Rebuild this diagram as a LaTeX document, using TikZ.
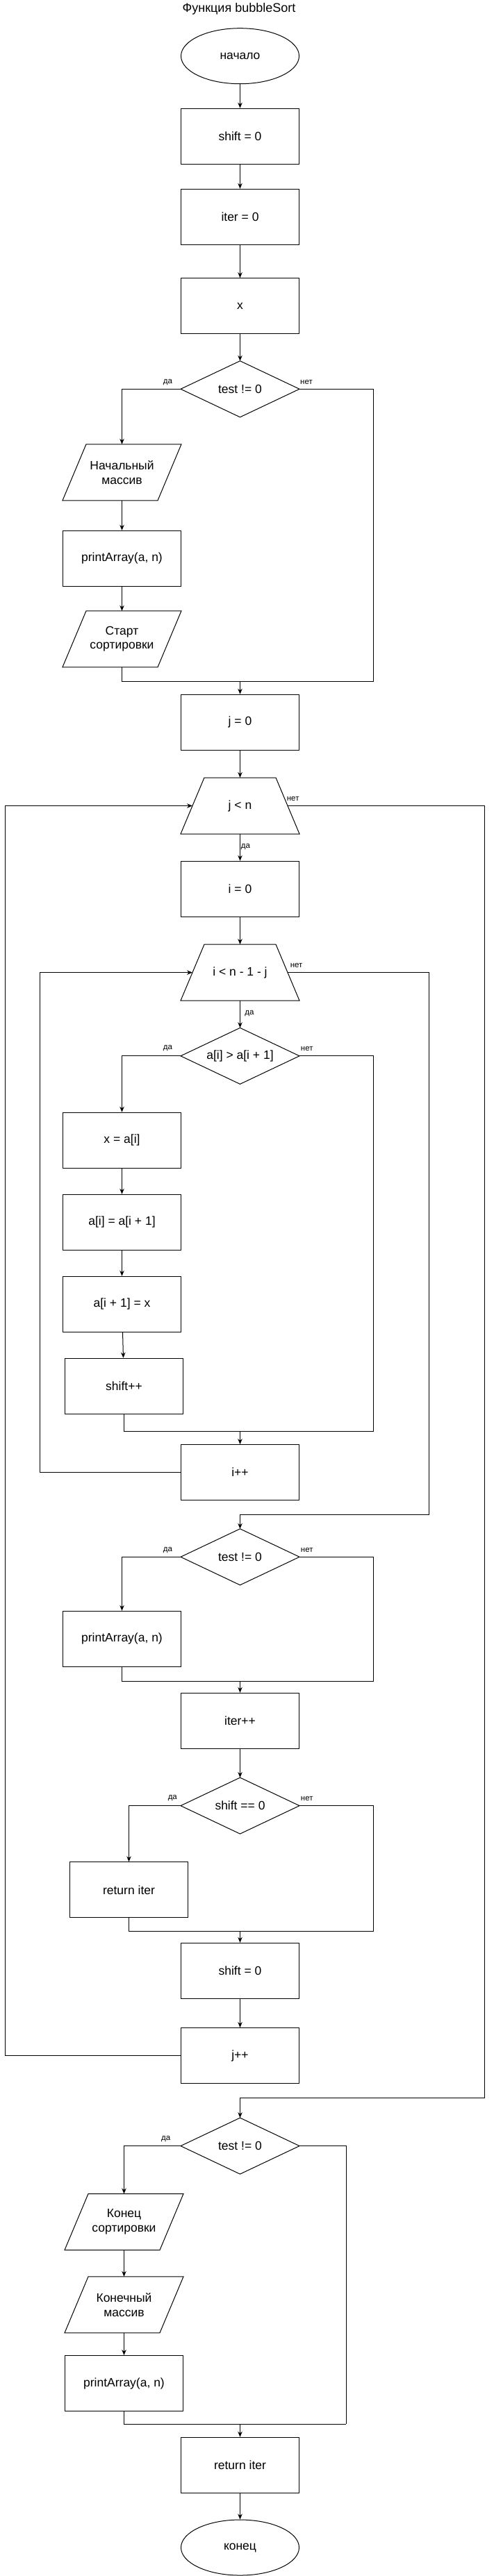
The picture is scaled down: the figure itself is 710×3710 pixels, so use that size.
\documentclass[tikz,border=0pt]{standalone}
\usepackage{fontspec}
\setmainfont{Liberation Sans}
\usetikzlibrary{arrows.meta,shapes.geometric}
\newcommand\drawpara[1]{\draw ([xshift=34pt]#1.north west) -- (#1.north east) -- ([xshift=-34pt]#1.south east) -- (#1.south west) -- cycle;}
\newcommand\drawtrap[1]{\draw ([xshift=34pt]#1.north west) -- ([xshift=-34pt]#1.north east) -- (#1.south east) -- (#1.south west) -- cycle;}
\newcommand\drawdiam[1]{\draw (#1.north) -- (#1.east) -- (#1.south) -- (#1.west) -- cycle;}
\begin{document}
\begin{tikzpicture}[x=1pt,y=-1pt,line width=1pt,
  base/.style={minimum width=170pt,minimum height=80pt,inner sep=0pt,align=center,font=\fontsize{17.5}{20.7}\selectfont},
  box/.style={base,draw},
  blank/.style={base},
  term/.style={base,ellipse,draw},
  lbl/.style={inner sep=0pt,font=\fontsize{11.5}{13}\selectfont},
  arr/.style={-{Stealth[length=8pt,width=6.5pt]}}]
\useasboundingbox (0,0) rectangle (710,3710);
\node[font=\fontsize{18}{20}\selectfont] (title) at (344,13) {Функция bubbleSort};
\node[term] (start) at (345.5,80.7) {начало};
\node[box] (s0) at (345.5,196.2) {shift = 0};
\node[box] (it0) at (345.5,312.3) {iter = 0};
\node[box] (xb) at (345.5,440.7) {x};
\node[blank] (d1) at (345.5,560.3) {test != 0}; \drawdiam{d1}
\node[blank] (p1) at (175.5,680.3) {Начальный\\массив}; \drawpara{p1}
\node[box] (pa1) at (175.5,804.3) {printArray(a, n)};
\node[blank] (p2) at (175.5,920.3) {Старт\\сортировки}; \drawpara{p2}
\node[box] (j0) at (345.5,1040.3) {j = 0};
\node[blank] (jn) at (345.5,1160.5) {j < n}; \drawtrap{jn}
\node[box] (i0) at (345.5,1280.3) {i = 0};
\node[blank] (in) at (345.5,1400.6) {i < n - 1 - j}; \drawtrap{in}
\node[blank] (da) at (345.5,1520.8) {a[i] > a[i + 1]}; \drawdiam{da}
\node[box] (xa) at (175.5,1642.2) {x = a[i]};
\node[box] (aa) at (175.5,1760.3) {a[i] = a[i + 1]};
\node[box] (ax) at (175.5,1878.3) {a[i + 1] = x};
\node[box] (sp) at (178.5,1996.2) {shift++};
\node[box] (ipp) at (345.5,2120.6) {i++};
\node[blank] (d2) at (345.5,2242.3) {test != 0}; \drawdiam{d2}
\node[box] (pa2) at (175.5,2360.3) {printArray(a, n)};
\node[box] (itp) at (345.5,2478.3) {iter++};
\node[blank] (d3) at (345.5,2600.6) {shift == 0}; \drawdiam{d3}
\node[box] (ri) at (185.5,2721.8) {return iter};
\node[box] (s0b) at (345.5,2838.3) {shift = 0};
\node[box] (jpp) at (345.5,2960.6) {j++};
\node[blank] (d4) at (345.5,3090.6) {test != 0}; \drawdiam{d4}
\node[blank] (p3) at (178.5,3200) {Конец\\сортировки}; \drawpara{p3}
\node[blank] (p4) at (178.5,3319.3) {Конечный\\массив}; \drawpara{p4}
\node[box] (pa3) at (178.5,3432.5) {printArray(a, n)};
\node[box] (ri2) at (345.5,3550.3) {return iter};
\node[term] (end) at (345.5,3669) {конец};
% coordinates
\coordinate (r1) at (537.8,981.3); \coordinate (m1) at (345.5,981.3);
\coordinate (r2) at (537.8,2061); \coordinate (m2) at (345.5,2061);
\coordinate (r3) at (537.8,2421); \coordinate (m3) at (345.5,2421);
\coordinate (r4) at (537.8,2781); \coordinate (m4) at (345.5,2781);
\coordinate (r5) at (498,3491); \coordinate (m5) at (345.5,3491);
\coordinate (oR) at (697.3,3021); \coordinate (oRm) at (345.5,3021);
\coordinate (iR) at (617.3,2181.3); \coordinate (iRm) at (345.5,2181.3);
\coordinate (oL) at (7.2,1160.5);
\coordinate (iL) at (57.5,1400.6);
% main flow
\draw[arr] (start) -- (s0);
\draw[arr] (s0) -- (it0);
\draw[arr] (it0) -- (xb);
\draw[arr] (xb) -- (d1);
\draw[arr] (d1.west) -| (p1.north);
\draw[arr] (p1) -- (pa1);
\draw[arr] (pa1) -- (p2);
\draw (p2.south) |- (r1);
\draw (d1.east) -| (r1);
\draw[arr] (m1) -- (j0);
\draw[arr] (j0) -- (jn);
\draw[arr] (jn) -- (i0);
\draw[arr] (i0) -- (in);
\draw[arr] (in) -- (da);
\draw[arr] (da.west) -| (xa.north);
\draw (da.east) -| (r2);
\draw[arr] (xa) -- (aa);
\draw[arr] (aa) -- (ax);
\draw[arr] (ax) -- (sp);
\draw (sp.south) |- (r2);
\draw[arr] (m2) -- (ipp);
\draw[arr] (ipp.west) -| (iL) -- ([xshift=17pt]in.west);
\draw ([xshift=-17pt]in.east) -| (iR) -- (iRm);
\draw[arr] (iRm) -- (d2);
\draw[arr] (d2.west) -| (pa2.north);
\draw (d2.east) -| (r3);
\draw (pa2.south) |- (r3);
\draw[arr] (m3) -- (itp);
\draw[arr] (itp) -- (d3);
\draw[arr] (d3.west) -| (ri.north);
\draw (d3.east) -| (r4);
\draw (ri.south) |- (r4);
\draw[arr] (m4) -- (s0b);
\draw[arr] (s0b) -- (jpp);
\draw[arr] (jpp.west) -| (oL) -- ([xshift=17pt]jn.west);
\draw ([xshift=-17pt]jn.east) -| (oR) -- (oRm);
\draw[arr] (oRm) -- (d4);
\draw[arr] (d4.west) -| (p3.north);
\draw (d4.east) -| (r5);
\draw[arr] (p3) -- (p4);
\draw[arr] (p4) -- (pa3);
\draw (pa3.south) |- (r5);
\draw[arr] (m5) -- (ri2);
\draw[arr] (ri2) -- (end);
% labels
\node[lbl] (l1) at (241.5,550.7) {да};
\node[lbl] (l2) at (441,550.7) {нет};
\node[lbl] (l3) at (421.7,1150) {нет};
\node[lbl] (l4) at (353.5,1220) {да};
\node[lbl] (l5) at (426.6,1390) {нет};
\node[lbl] (l6) at (359,1460) {да};
\node[lbl] (l7) at (241.5,1510) {да};
\node[lbl] (l8) at (441.8,1510) {нет};
\node[lbl] (l9) at (241.5,2232.3) {да};
\node[lbl] (l10) at (441.8,2232.3) {нет};
\node[lbl] (l11) at (248.3,2590) {да};
\node[lbl] (l12) at (441.8,2590) {нет};
\node[lbl] (l13) at (238.8,3081) {да};
\end{tikzpicture}
\end{document}
